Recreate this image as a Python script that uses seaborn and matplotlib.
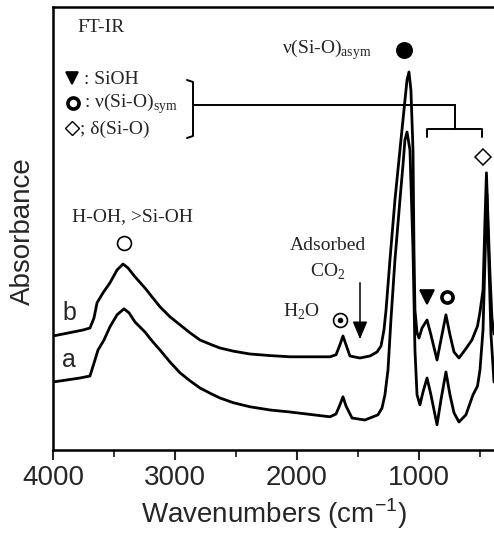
import matplotlib
matplotlib.use("Agg")
import matplotlib.pyplot as plt
import seaborn as sns
import pandas as pd
from matplotlib.lines import Line2D
from matplotlib.patches import FancyArrowPatch

# ---- data (absorbance in arbitrary units) ----
wn_b = [4000, 3754, 3697, 3664, 3639, 3590, 3533, 3475, 3426, 3385, 3328, 3246,
        3189, 3123, 3041, 2959, 2877, 2795, 2700, 2631, 2520, 2385, 2220, 2057,
        1730, 1680, 1648, 1623, 1598, 1566, 1484, 1402, 1344, 1311, 1287, 1270,
        1238, 1197, 1156, 1123, 1098, 1082, 1066, 1049, 1041, 1033, 1016, 1000,
        975, 934, 902, 852, 820, 779, 746, 713, 672, 623, 566, 520, 500, 475,
        459, 447, 434, 418, 402, 385]
abs_b = [0.285, 0.300, 0.305, 0.330, 0.368, 0.393, 0.418, 0.450, 0.465, 0.455,
         0.433, 0.405, 0.383, 0.358, 0.333, 0.313, 0.293, 0.275, 0.263, 0.255,
         0.247, 0.240, 0.236, 0.233, 0.233, 0.238, 0.263, 0.285, 0.263, 0.235,
         0.230, 0.235, 0.245, 0.260, 0.300, 0.350, 0.475, 0.625, 0.750, 0.850,
         0.925, 0.945, 0.900, 0.750, 0.500, 0.350, 0.293, 0.280, 0.305, 0.325,
         0.288, 0.225, 0.275, 0.338, 0.288, 0.245, 0.230, 0.250, 0.275, 0.310,
         0.345, 0.400, 0.575, 0.693, 0.575, 0.440, 0.330, 0.290]

wn_a = [4000, 3779, 3697, 3656, 3631, 3582, 3533, 3475, 3418, 3377, 3328, 3246,
        3189, 3123, 3041, 2959, 2877, 2795, 2700, 2631, 2520, 2385, 2220, 2057,
        1730, 1680, 1648, 1623, 1598, 1549, 1443, 1336, 1303, 1279, 1254, 1230,
        1197, 1156, 1131, 1115, 1098, 1074, 1049, 1033, 1016, 992, 967, 934,
        902, 852, 820, 779, 746, 713, 672, 615, 557, 520, 500, 475, 459, 443,
        426, 410, 385]
abs_a = [0.170, 0.180, 0.185, 0.225, 0.250, 0.275, 0.308, 0.338, 0.353, 0.343,
         0.320, 0.295, 0.273, 0.250, 0.220, 0.193, 0.173, 0.155, 0.140, 0.130,
         0.118, 0.108, 0.100, 0.095, 0.083, 0.090, 0.113, 0.133, 0.110, 0.080,
         0.075, 0.088, 0.105, 0.138, 0.200, 0.325, 0.475, 0.625, 0.713, 0.775,
         0.795, 0.750, 0.500, 0.250, 0.138, 0.113, 0.145, 0.180, 0.138, 0.063,
         0.125, 0.195, 0.138, 0.093, 0.070, 0.088, 0.138, 0.160, 0.200, 0.300,
         0.475, 0.640, 0.460, 0.290, 0.170]

x_major = [4000, 3000, 2000, 1000]
x_minor = [3500, 2500, 1500, 500]

df = pd.concat([
    pd.DataFrame({"wavenumber": wn_b, "absorbance": abs_b, "sample": "b"}),
    pd.DataFrame({"wavenumber": wn_a, "absorbance": abs_a, "sample": "a"}),
])

# ---- style ----
sns.set_theme(style="ticks")
plt.rcParams["font.family"] = ["Liberation Sans", "DejaVu Sans"]
SERIF = ["Liberation Serif", "DejaVu Serif"]

W, H = 494, 536
fig = plt.figure(figsize=(W / 100, H / 100), dpi=100)
ax = fig.add_axes([53 / W, 1 - 450 / H, 1 - 53 / W, (450 - 7) / H])

sns.lineplot(data=df, x="wavenumber", y="absorbance", units="sample",
             estimator=None, color="black", linewidth=2.0, ax=ax, legend=False)

ax.set_xlim(4000, 385)
ax.set_ylim(0, 1.1075)
ax.set_xticks(x_major)
ax.set_xticks(x_minor, minor=True)
ax.set_xticklabels([str(v) for v in x_major], fontsize=20)
ax.set_yticks([])
ax.tick_params(axis="x", which="major", direction="out", length=7, width=1.5, pad=4)
ax.tick_params(axis="x", which="minor", direction="out", length=5, width=1.3)
for s in ["left", "bottom", "top"]:
    ax.spines[s].set_linewidth(1.8)
    ax.spines[s].set_color("black")
ax.spines["right"].set_visible(False)
ax.set_xlabel(r"Wavenumbers (cm$^{\mathregular{-1}}$)", fontsize=20, labelpad=4)
ax.set_ylabel("")
fig.text(23 / W, 1 - 231 / H, "Absorbance", rotation=90, fontsize=20,
         ha="center", va="center")


def fx(x):
    return x / W


def fy(y):
    return 1 - y / H


def txt(x, y, s, size=14, ha="left", family=SERIF):
    fig.text(fx(x), fy(y), s, fontsize=size, ha=ha, va="center", family=family)


def mark(x, y, m, ms, mfc, mew=1.2):
    fig.add_artist(Line2D([fx(x)], [fy(y)], marker=m, markersize=ms,
                          markerfacecolor=mfc, markeredgecolor="black",
                          markeredgewidth=mew, linestyle="none"))


def seg(xs, ys, lw=1.4):
    fig.add_artist(Line2D([fx(v) for v in xs], [fy(v) for v in ys],
                          color="black", linewidth=lw))


# sample labels
txt(62, 313, "b", size=18, family=["Liberation Sans"])
txt(62, 360, "a", size=18, family=["Liberation Sans"])

# FT-IR and legend
txt(77, 28, "FT-IR", size=14)
mark(72, 78, "v", 9, "black")
txt(84, 80, ": SiOH", size=14)
mark(73, 103, "o", 8, "white", mew=2.6)
txt(84, 104, r": ν(Si-O)$_{\mathregular{sym}}$", size=14)
mark(72, 128, "D", 7, "white", mew=1.0)
txt(80, 129, "; δ(Si-O)", size=14)

# brackets / connector lines
seg([187, 193, 193, 187], [80, 82, 136, 138])
seg([193, 455], [105, 105])
seg([455, 455], [105, 129])
seg([427, 427, 482, 482], [137, 129, 129, 137])

# asym label
txt(282, 50, r"ν(Si-O)$_{\mathregular{asym}}$", size=14)
mark(404, 50, "o", 11, "black")

# O-H label
txt(72, 217, "H-OH, >Si-OH", size=14)
mark(124, 243, "o", 10, "white", mew=1.2)

# adsorbed CO2 and arrow
txt(328, 246, "Adsorbed", size=14, ha="center")
txt(328, 272, r"CO$_{\mathregular{2}}$", size=14, ha="center")
fig.add_artist(FancyArrowPatch(
    (fx(360), fy(280)), (fx(360), fy(342)), transform=fig.transFigure,
    arrowstyle="-|>,head_length=1.2,head_width=0.5", color="black",
    linewidth=1.1, mutation_scale=9))

# H2O
txt(283, 312, r"H$_{\mathregular{2}}$O", size=14)
mark(340, 320, "o", 10, "white", mew=1.2)
mark(340, 320, "o", 3.5, "black", mew=0.5)

# SiOH / sym markers over low-wavenumber bands
mark(427, 297, "v", 10, "black")
mark(447, 297, "o", 8, "white", mew=2.6)

# delta diamond
mark(483, 157, "D", 8, "white", mew=1.1)

fig.savefig("out.png", dpi=100)
